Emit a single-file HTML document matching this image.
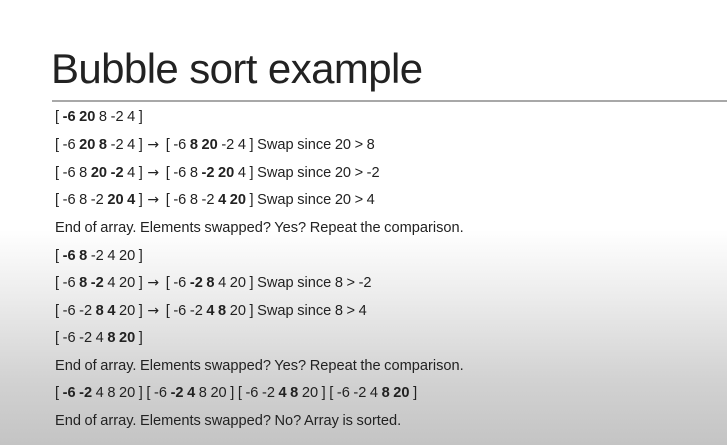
<!DOCTYPE html>
<html><head><style>
html,body{margin:0;padding:0}
body{width:727px;height:445px;overflow:hidden;position:relative;
background:linear-gradient(to bottom,#fff 0,#fff 230px,#ebebeb 300px,#d2d2d2 380px,#c4c4c4 445px);
font-family:"Liberation Sans",sans-serif;color:#222}
h1{position:absolute;left:51px;top:43px;margin:0;font-weight:normal;font-size:42px;letter-spacing:-0.6px;line-height:52px;color:#222}
.rule{position:absolute;left:52px;top:100px;width:675px;height:2px;background:#a8a8a8}
.l{position:absolute;left:55px;font-size:14.6px;line-height:18px;height:18px;white-space:pre;color:#222;word-spacing:-0.5px}
.a{font-family:"DejaVu Sans",sans-serif;font-size:14px;line-height:10px;margin:0 3px 0 1px}
b{font-weight:bold}
</style></head><body>
<h1>Bubble sort example</h1>
<div class="rule"></div>
<div class="l" style="top:108px">[ <b>-6 20</b> 8 -2 4 ]</div>
<div class="l" style="top:136px">[ -6 <b>20 8</b> -2 4 ] <span class="a">→</span> [ -6 <b>8 20</b> -2 4 ] Swap since 20 &gt; 8</div>
<div class="l" style="top:164px">[ -6 8 <b>20 -2</b> 4 ] <span class="a">→</span> [ -6 8 <b>-2 20</b> 4 ] Swap since 20 &gt; -2</div>
<div class="l" style="top:191px">[ -6 8 -2 <b>20 4</b> ] <span class="a">→</span> [ -6 8 -2 <b>4 20</b> ] Swap since 20 &gt; 4</div>
<div class="l" style="top:219px">End of array. Elements swapped? Yes? Repeat the comparison.</div>
<div class="l" style="top:247px">[ <b>-6 8</b> -2 4 20 ]</div>
<div class="l" style="top:274px">[ -6 <b>8 -2</b> 4 20 ] <span class="a">→</span> [ -6 <b>-2 8</b> 4 20 ] Swap since 8 &gt; -2</div>
<div class="l" style="top:302px">[ -6 -2 <b>8 4</b> 20 ] <span class="a">→</span> [ -6 -2 <b>4 8</b> 20 ] Swap since 8 &gt; 4</div>
<div class="l" style="top:329px">[ -6 -2 4 <b>8 20</b> ]</div>
<div class="l" style="top:357px">End of array. Elements swapped? Yes? Repeat the comparison.</div>
<div class="l" style="top:384px">[ <b>-6 -2</b> 4 8 20 ] [ -6 <b>-2 4</b> 8 20 ] [ -6 -2 <b>4 8</b> 20 ] [ -6 -2 4 <b>8 20</b> ]</div>
<div class="l" style="top:412px">End of array. Elements swapped? No? Array is sorted.</div>
</body></html>
